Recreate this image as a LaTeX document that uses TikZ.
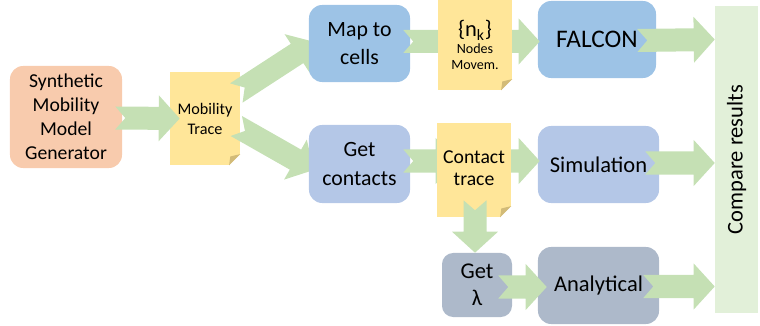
\documentclass[tikz,border=0pt]{standalone}
\usepackage{fontspec}
\setmainfont{Carlito}
\usepackage{graphicx}
\usepackage{tikz}
\usetikzlibrary{calc,positioning}
\pgfdeclarelayer{background}
\pgfdeclarelayer{foreground}
\pgfsetlayers{background,main,foreground}

\definecolor{genorange}{HTML}{F8CBAD}
\definecolor{noteyellow}{HTML}{FFE699}
\definecolor{foldtan}{HTML}{D2BB78}
\definecolor{cellblue}{HTML}{9DC3E6}
\definecolor{contactblue}{HTML}{B4C7E7}
\definecolor{lambdagrey}{HTML}{ADB9CA}
\definecolor{compgreen}{HTML}{E2F0D9}
\definecolor{flowgreen}{HTML}{C5E0B4}

% block arrow sizes
\newcommand\fshaft{0.2875cm}
\newcommand\fwing{0.575cm}
\newcommand\fhead{0.525cm}
\newcommand\fnotch{0.25cm}

% folded corner of a note
\newcommand\dogear[1]{%
    \fill[white] (#1.south east) -- ($(#1.south east)+(-0.28cm,0)$) -- ($(#1.south east)+(0,0.28cm)$) -- cycle;
    \fill[foldtan] ($(#1.south east)+(-0.28cm,0)$) -- ($(#1.south east)+(0,0.28cm)$) -- ($(#1.south east)+(-0.25cm,0.22cm)$) -- cycle;
}

\tikzset{
    box/.style={rounded corners=0.33cm,inner sep=2pt,align=center},
    note/.style={fill=noteyellow,inner sep=1pt,align=center},
    flow/.style={to path={
        ($(\tikztostart)!\fshaft!90:(\tikztotarget)$)
        -- ($($(\tikztotarget)!\fhead!(\tikztostart)$)!\fshaft!90:(\tikztotarget)$)
        -- ($($(\tikztotarget)!\fhead!(\tikztostart)$)!\fwing!90:(\tikztotarget)$)
        -- (\tikztotarget)
        -- ($($(\tikztotarget)!\fhead!(\tikztostart)$)!\fwing!-90:(\tikztotarget)$)
        -- ($($(\tikztotarget)!\fhead!(\tikztostart)$)!\fshaft!-90:(\tikztotarget)$)
        -- ($(\tikztostart)!\fshaft!-90:(\tikztotarget)$)
        -- ($(\tikztostart)!\fnotch!(\tikztotarget)$)
        -- cycle}}
}

\begin{document}
\begin{tikzpicture}[x=0.025cm,y=-0.025cm]
    \useasboundingbox (0,0) rectangle (760,326);

    % input side
    \begin{pgfonlayer}{background}
        \node[box,fill=genorange,minimum width=2.8cm,minimum height=2.55cm,
            font=\fontsize{14}{17}\selectfont] (gen) at (66,117)
            {Synthetic\\Mobility\\Model\\Generator};
        \node[note,minimum width=1.75cm,minimum height=2.325cm,
            font=\fontsize{11.5}{14.2}\selectfont] (mtrace) at (205,118.5)
            {Mobility\\Trace};
        \dogear{mtrace}
    \end{pgfonlayer}

    % processing boxes
    \node[box,fill=cellblue,minimum width=2.525cm,minimum height=1.925cm,
        font=\fontsize{15.5}{20}\selectfont] (map) at (359.5,43.5) {Map to\\cells};
    \node[box,fill=contactblue,minimum width=2.525cm,minimum height=1.95cm,
        font=\fontsize{15.5}{20}\selectfont] (contacts) at (359.5,164) {Get\\contacts};
    \node[box,fill=cellblue,minimum width=2.95cm,minimum height=1.925cm,
        font=\fontsize{18}{21}\selectfont] (falcon) at (597,39.5) {FALCON};
    \node[box,fill=contactblue,minimum width=3.025cm,minimum height=1.925cm,
        font=\fontsize{16}{19}\selectfont] (sim) at (598.5,164.5) {Simulation};
    \node[box,fill=lambdagrey,rounded corners=0.28cm,minimum width=1.75cm,minimum height=1.6cm,
        font=\fontsize{16}{19}\selectfont] (getl) at (477,285) {Get\\λ};
    \node[box,fill=lambdagrey,minimum width=3.025cm,minimum height=1.925cm,
        font=\fontsize{16}{19}\selectfont] (anal) at (598.5,285.5) {Analytical};
    \node[fill=compgreen,minimum width=1.075cm,minimum height=7.675cm,inner sep=0pt,
        font=\fontsize{16}{19}\selectfont] (compare) at (736.5,159.5)
        {\rotatebox{90}{Compare results}};

    % intermediate traces
    \begin{pgfonlayer}{foreground}
        \node[note,minimum width=1.85cm,minimum height=2.25cm,
            font=\fontsize{10}{11.5}\selectfont] (nk) at (475,45)
            {{\fontsize{16}{18}\selectfont\{n\textsubscript{k}\}}\\Nodes\\Movem.};
        \dogear{nk}
        \node[note,minimum width=1.85cm,minimum height=2.35cm,
            font=\fontsize{14}{16}\selectfont] (ctrace) at (474,170)
            {\raisebox{4pt}{\begin{tabular}{@{}c@{}}Contact\\trace\end{tabular}}};
        \dogear{ctrace}
    \end{pgfonlayer}

    % arrows
    \begin{pgfonlayer}{background}
        \fill[flowgreen] ($(gen.east)+(-7,1)$) to[flow] ($(mtrace.west)+(10,0)$);
        \fill[flowgreen] ($(mtrace.east)+(-4,-25.5)$) to[flow] ($(map.west)+(6,-1.5)$);
        \fill[flowgreen] ($(mtrace.east)+(-4,7.5)$) to[flow] ($(contacts.west)+(5,6)$);
    \end{pgfonlayer}
    \fill[flowgreen] ($(map.east)+(-7,-2)$) to[flow] ($(nk.west)+(22,-3.5)$);
    \fill[flowgreen] ($(nk.east)+(-17,-3.5)$) to[flow] ($(falcon.west)+(2,2)$);
    \fill[flowgreen] ($(falcon.east)+(-19,1)$) to[flow] (falcon.east -| compare.west);
    \fill[flowgreen] ($(contacts.east)+(-7,-3)$) to[flow] ($(ctrace.west)+(20,-9)$);
    \fill[flowgreen] ($(ctrace.east)+(-16,-9)$) to[flow] ($(sim.west)+(2,-3.5)$);
    \fill[flowgreen] ($(sim.east)+(-14,-1.5)$) to[flow] ($(sim.east -| compare.west)+(0,-1.5)$);
    \fill[flowgreen] ($(getl.east)+(-14,2)$) to[flow] ($(anal.west)+(9,1.5)$);
    \fill[flowgreen] ($(anal.east)+(-16,1)$) to[flow] ($(anal.east -| compare.west)+(0,1)$);
    \begin{pgfonlayer}{foreground}
        \fill[flowgreen] ($(ctrace.south)+(1,-17)$) to[flow] ($(getl.north)+(-2,0)$);
    \end{pgfonlayer}
\end{tikzpicture}
\end{document}
